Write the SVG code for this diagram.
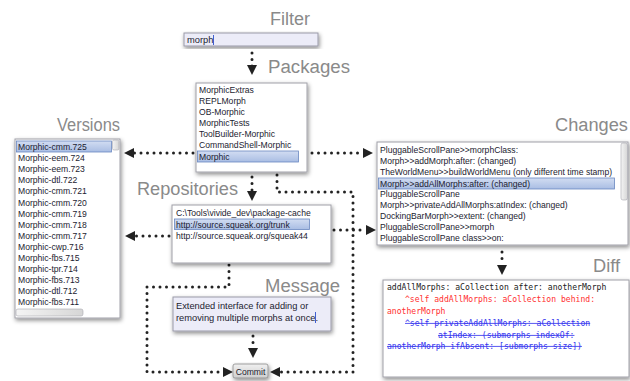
<svg xmlns="http://www.w3.org/2000/svg" width="630" height="381" viewBox="0 0 630 381">
<style>
.title{font-family:"Liberation Sans",Arial,sans-serif;font-size:18px;fill:#8a8a8a}
.item{font-family:"Liberation Sans",Arial,sans-serif;font-size:8.6px;fill:#1c1c30}
.msg{font-family:"Liberation Sans",Arial,sans-serif;font-size:9.3px;fill:#1c1c30}
.mono{font-family:"DejaVu Sans Mono","Liberation Mono",monospace;font-size:8.1px}
.box{fill:#ffffff;stroke:#a0a0a8;stroke-width:1;filter:url(#sh)}
.ibox{fill:#ececf8;stroke:#9a9aa8;stroke-width:1;filter:url(#sh)}
.sel{fill:url(#selg);stroke:#6a88c0;stroke-width:0.8}
.conn{fill:none;stroke:#222;stroke-width:3;stroke-linecap:round;stroke-dasharray:0 6.5}
.sb{fill:url(#sbg);stroke:#a8a8b0;stroke-width:0.6}
</style>
<defs>
<filter id="sh" x="-10%" y="-10%" width="125%" height="130%">
<feDropShadow dx="1" dy="2" stdDeviation="2" flood-color="#000" flood-opacity="0.45"/>
</filter>
<linearGradient id="selg" x1="0" y1="0" x2="0" y2="1">
<stop offset="0" stop-color="#d2ddf2"/>
<stop offset="1" stop-color="#a9bde3"/>
</linearGradient>
<linearGradient id="sbg" x1="0" y1="0" x2="1" y2="0">
<stop offset="0" stop-color="#f4f4f4"/>
<stop offset="1" stop-color="#d6d6d6"/>
</linearGradient>
<linearGradient id="btng" x1="0" y1="0" x2="0" y2="1">
<stop offset="0" stop-color="#f0f0f0"/>
<stop offset="1" stop-color="#cfcfcf"/>
</linearGradient>
<marker id="ah" viewBox="0 0 10 10" refX="10" refY="5" markerWidth="10" markerHeight="10" markerUnits="userSpaceOnUse" orient="auto">
<path d="M0,0 L10,5 L0,10 z" fill="#222"/>
</marker>
</defs>

<g id="connectors">
<path class="conn" d="M252,53 V67" /><path d="M252,64 V75" stroke="none" fill="none" marker-end="url(#ah)"/>
<path class="conn" d="M193,153 H132"/><path d="M134,153 H124" fill="none" marker-end="url(#ah)"/>
<path class="conn" d="M312,153 H363"/><path d="M362,153 H373" fill="none" marker-end="url(#ah)"/>
<path class="conn" d="M252,177 V191"/><path d="M252,191 V201" fill="none" marker-end="url(#ah)"/>
<path class="conn" d="M277,175 V192 H353 V372 H281"/><path d="M281,372 H270" fill="none" marker-end="url(#ah)"/>
<path class="conn" d="M169,236 H134"/><path d="M135,236 H125" fill="none" marker-end="url(#ah)"/>
<path class="conn" d="M334,230 H365"/><path d="M366,230 H376" fill="none" marker-end="url(#ah)"/>
<path class="conn" d="M229,265 V287 H147 V372 H222"/><path d="M223,372 H233" fill="none" marker-end="url(#ah)"/>
<path class="conn" d="M253,336 V348"/><path d="M253,348 V358" fill="none" marker-end="url(#ah)"/>
<path class="conn" d="M502,252 V265"/><path d="M502,265 V275" fill="none" marker-end="url(#ah)"/>
</g>

<g id="filter">
<text class="title" x="270" y="25" textLength="40" lengthAdjust="spacingAndGlyphs">Filter</text>
<rect class="ibox" x="184" y="33" width="134" height="13"/>
<text class="msg" x="187" y="43">morph</text>
<line x1="213.5" y1="35" x2="213.5" y2="45" stroke="#4060d0" stroke-width="1"/>
</g>

<g id="packages">
<text class="title" x="268" y="73" textLength="82" lengthAdjust="spacingAndGlyphs">Packages</text>
<rect class="box" x="196" y="83" width="111" height="89"/>
<rect class="sel" x="197.5" y="151" width="101" height="11"/>
<text class="item" x="199" y="93">MorphicExtras</text>
<text class="item" x="199" y="104">REPLMorph</text>
<text class="item" x="199" y="115">OB-Morphic</text>
<text class="item" x="199" y="126">MorphicTests</text>
<text class="item" x="199" y="137">ToolBuilder-Morphic</text>
<text class="item" x="199" y="148">CommandShell-Morphic</text>
<text class="item" x="199" y="159.5">Morphic</text>
</g>

<g id="versions">
<text class="title" x="57" y="131" textLength="63" lengthAdjust="spacingAndGlyphs">Versions</text>
<rect class="box" x="15" y="139" width="105" height="179"/>
<rect class="sel" x="16.5" y="141" width="95" height="11"/>
<rect class="sb" x="112.5" y="140" width="6.5" height="10" rx="1.5"/>
<rect class="sb" x="16" y="309" width="67" height="7" rx="2"/>
<text class="item" x="18" y="150">Morphic-cmm.725</text>
<text class="item" x="18" y="161.1">Morphic-eem.724</text>
<text class="item" x="18" y="172.2">Morphic-eem.723</text>
<text class="item" x="18" y="183.3">Morphic-dtl.722</text>
<text class="item" x="18" y="194.4">Morphic-cmm.721</text>
<text class="item" x="18" y="205.5">Morphic-cmm.720</text>
<text class="item" x="18" y="216.6">Morphic-cmm.719</text>
<text class="item" x="18" y="227.7">Morphic-cmm.718</text>
<text class="item" x="18" y="238.8">Morphic-cmm.717</text>
<text class="item" x="18" y="249.9">Morphic-cwp.716</text>
<text class="item" x="18" y="261">Morphic-fbs.715</text>
<text class="item" x="18" y="272.1">Morphic-tpr.714</text>
<text class="item" x="18" y="283.2">Morphic-fbs.713</text>
<text class="item" x="18" y="294.3">Morphic-dtl.712</text>
<text class="item" x="18" y="305.4">Morphic-fbs.711</text>
</g>

<g id="changes">
<text class="title" x="555" y="131" textLength="73" lengthAdjust="spacingAndGlyphs">Changes</text>
<rect class="box" x="377" y="142" width="251" height="103"/>
<rect class="sel" x="378.5" y="178" width="236" height="11"/>
<rect class="sb" x="621" y="143" width="6.5" height="57" rx="2"/>
<text class="item" x="380" y="153">PluggableScrollPane&gt;&gt;morphClass:</text>
<text class="item" x="380" y="164">Morph&gt;&gt;addMorph:after: (changed)</text>
<text class="item" x="380" y="175">TheWorldMenu&gt;&gt;buildWorldMenu (only different time stamp)</text>
<text class="item" x="380" y="186.5">Morph&gt;&gt;addAllMorphs:after: (changed)</text>
<text class="item" x="380" y="197">PluggableScrollPane</text>
<text class="item" x="380" y="208">Morph&gt;&gt;privateAddAllMorphs:atIndex: (changed)</text>
<text class="item" x="380" y="219">DockingBarMorph&gt;&gt;extent: (changed)</text>
<text class="item" x="380" y="230">PluggableScrollPane&gt;&gt;morph</text>
<text class="item" x="380" y="241">PluggableScrollPane class&gt;&gt;on:</text>
</g>

<g id="repositories">
<text class="title" x="137" y="195" textLength="101" lengthAdjust="spacingAndGlyphs">Repositories</text>
<rect class="box" x="172" y="205" width="159" height="58"/>
<rect class="sel" x="174.5" y="219" width="135" height="10.5"/>
<text class="item" x="176" y="216">C:\Tools\vivide_dev\package-cache</text>
<text class="item" x="176" y="227.5">http://source.squeak.org/trunk</text>
<text class="item" x="176" y="238.5">http://source.squeak.org/squeak44</text>
</g>

<g id="message">
<text class="title" x="265" y="292" textLength="75" lengthAdjust="spacingAndGlyphs">Message</text>
<rect class="ibox" x="173" y="297" width="158" height="34"/>
<text class="msg" x="176" y="309">Extended interface for adding or</text>
<text class="msg" x="176" y="321">removing multiple morphs at once.</text>
<line x1="315.5" y1="312" x2="315.5" y2="323" stroke="#4060d0" stroke-width="1"/>
</g>

<g id="diff">
<text class="title" x="593" y="272" textLength="27" lengthAdjust="spacingAndGlyphs">Diff</text>
<rect class="box" x="383" y="280" width="246" height="97"/>
<text class="mono" x="387" y="290" fill="#222">addAllMorphs: aCollection after: anotherMorph</text>
<text class="mono" x="405" y="302" fill="#ff3030">^self addAllMorphs: aCollection behind:</text>
<text class="mono" x="387" y="314" fill="#ff3030">anotherMorph</text>
<text class="mono" x="405" y="326" fill="#3333ee" text-decoration="line-through">^self privateAddAllMorphs: aCollection</text>
<text class="mono" x="438" y="338" fill="#3333ee" text-decoration="line-through">atIndex: (submorphs indexOf:</text>
<text class="mono" x="387" y="349" fill="#3333ee" text-decoration="line-through">anotherMorph ifAbsent: [submorphs size])</text>
</g>

<g id="commit">
<rect x="233" y="364" width="35" height="14" rx="2" fill="url(#btng)" stroke="#8a8a8a" stroke-width="0.8" filter="url(#sh)"/>
<text x="250.5" y="374.5" text-anchor="middle" font-family="Liberation Sans, Arial, sans-serif" font-size="8.6" fill="#1c1c30">Commit</text>
</g>
</svg>
